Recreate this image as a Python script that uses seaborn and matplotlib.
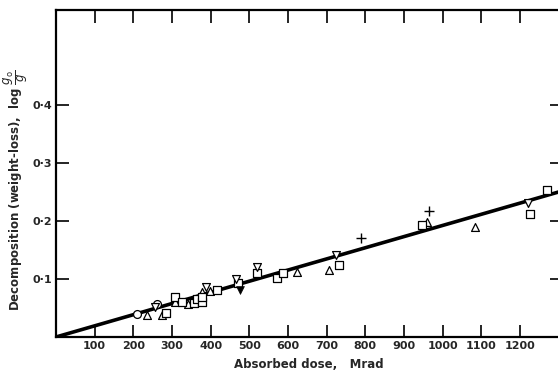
import pandas as pd
import matplotlib.pyplot as plt
import seaborn as sns

# Pontos (dose absorvida em Mrad, log g0/g)
circ_x = [210, 262]
circ_y = [0.040, 0.057]

tri_x = [236, 275, 308, 342, 378, 399, 624, 705, 959, 1085]
tri_y = [0.038, 0.038, 0.060, 0.057, 0.078, 0.079, 0.112, 0.116, 0.198, 0.190]

sq_x = [285, 308, 326, 358, 365, 378, 378, 417, 472, 521, 573, 588, 731, 946, 1225, 1269]
sq_y = [0.041, 0.069, 0.060, 0.059, 0.066, 0.060, 0.069, 0.081, 0.093, 0.110,
        0.102, 0.110, 0.124, 0.193, 0.212, 0.253]

tdown_x = [256, 389, 466, 521, 725, 1220]
tdown_y = [0.052, 0.086, 0.100, 0.121, 0.141, 0.231]

tfill_x = [477]
tfill_y = [0.081]

plus_x = [788, 964]
plus_y = [0.171, 0.217]

# Reta ajustada
fit_x = [0, 1310]
fit_y = [0, 0.252]

xticks = [100, 200, 300, 400, 500, 600, 700, 800, 900, 1000, 1100, 1200]
yticks = [0.1, 0.2, 0.3, 0.4]
ytick_labels = ['0·1', '0·2', '0·3', '0·4']

sns.set_style('ticks')
plt.rcParams['font.family'] = ['DejaVu Sans']

fig = plt.figure(figsize=(5.58, 3.72), dpi=100)
# borda direita do quadro fica logo fora da imagem, como no original
ax = fig.add_axes([56 / 558, 35 / 372, 506 / 558, 327 / 372])

sns.lineplot(x=fit_x, y=fit_y, color='black', linewidth=2.6, ax=ax)

open_kw = dict(facecolor='white', edgecolor='black', linewidth=0.9, s=32, zorder=3)
sns.scatterplot(x=circ_x, y=circ_y, marker='o', ax=ax, **open_kw)
sns.scatterplot(x=tri_x, y=tri_y, marker='^', ax=ax, **open_kw)
sns.scatterplot(x=sq_x, y=sq_y, marker='s', ax=ax, **open_kw)
sns.scatterplot(x=tdown_x, y=tdown_y, marker='v', ax=ax, **open_kw)
sns.scatterplot(x=tfill_x, y=tfill_y, marker='v', color='black', edgecolor='black', s=32, zorder=3, ax=ax)
sns.scatterplot(x=plus_x, y=plus_y, marker='+', color='black', linewidth=1.0, s=60, zorder=3, ax=ax)

ax.set_xlim(0, 1309)
ax.set_ylim(0, 0.564)
ax.set_xticks(xticks)
ax.set_xticklabels([str(t) for t in xticks])
ax.set_yticks(yticks)
ax.set_yticklabels(ytick_labels)

for s in ax.spines.values():
    s.set_visible(True)
    s.set_linewidth(1.6)
    s.set_color('black')

ax.tick_params(direction='in', length=9, width=1.2, color='black',
               top=True, right=True, labelsize=8, pad=3)
for lab in ax.get_xticklabels() + ax.get_yticklabels():
    lab.set_fontweight('bold')

ax.set_xlabel('Absorbed dose,   Mrad', fontsize=8.5, fontweight='bold')
ax.set_ylabel(r'Decomposition (weight-loss),  log $\dfrac{g_\mathrm{o}}{g}$',
              fontsize=8.5, fontweight='bold')
ax.xaxis.set_label_coords(0.5, -0.065)
ax.yaxis.set_label_coords(-0.052, 0.45)

plt.savefig('out.png', dpi=100)
